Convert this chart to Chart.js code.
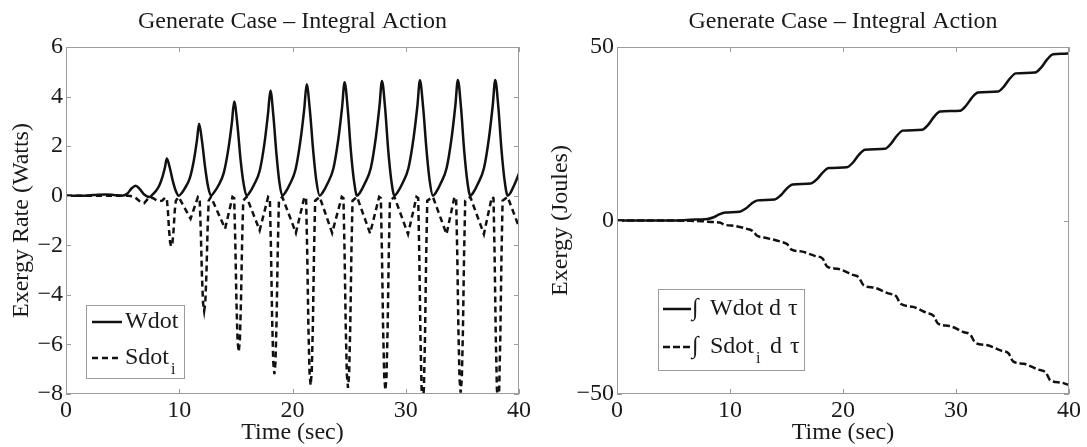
<!DOCTYPE html>
<html>
<head>
<meta charset="utf-8">
<title>Generate Case - Integral Action</title>
<script src="https://cdn.jsdelivr.net/npm/chart.js@4.4.1/dist/chart.umd.min.js"></script>
<style>
  body { margin: 0; background: #fff; }
  #wrap { position: relative; width: 1087px; height: 447px; overflow: hidden; }
  canvas { position: absolute; top: 0; }
</style>
</head>
<body>
<div id="wrap">
  <canvas id="rate-canvas" width="540" height="447" style="left:0"></canvas>
  <canvas id="energy-canvas" width="547" height="447" style="left:540px"></canvas>
</div>
<script>
// Exergy rate (left) and accumulated exergy (right) for the generate case
let panelTitle = "Generate Case \u2013 Integral Action";
let timeTicks = [0, 10, 20, 30, 40];
let rateTicks = [-8, -6, -4, -2, 0, 2, 4, 6];
let energyTicks = [-50, 0, 50];

// Wdot (Watts)
let wdotTime = [0, 1, 2, 2.8, 3.5, 4.2, 4.9, 5.4, 5.8, 6.15, 6.5, 6.9, 7.4,
  7.65, 7.95, 8.23, 8.53, 8.75, 8.9, 9.16, 9.43, 9.69, 9.95,
  10.2, 10.49, 10.94, 11.3, 11.57, 11.75, 12.01, 12.28, 12.54, 12.8,
  13.05, 13.42, 13.93, 14.34, 14.65, 14.85, 15.13, 15.4, 15.68, 15.95,
  16.2, 16.58, 17.11, 17.53, 17.84, 18.05, 18.31, 18.58, 18.84, 19.1,
  19.35, 19.75, 20.28, 20.71, 21.04, 21.25, 21.54, 21.83, 22.11, 22.4,
  22.65, 23.06, 23.61, 24.05, 24.38, 24.6, 24.88, 25.15, 25.43, 25.7,
  25.95, 26.36, 26.91, 27.35, 27.68, 27.9, 28.18, 28.45, 28.73, 29.0,
  29.25, 29.68, 30.24, 30.69, 31.03, 31.25, 31.54, 31.83, 32.11, 32.4,
  32.65, 33.06, 33.61, 34.05, 34.38, 34.6, 34.88, 35.15, 35.43, 35.7,
  35.95, 36.36, 36.91, 37.35, 37.68, 37.9, 38.18, 38.45, 38.73, 39.0,
  39.25, 39.6, 40];
let wdotRate = [0, 0, 0.01, 0.04, 0.05, 0.03, 0, 0.08, 0.3, 0.4, 0.28, 0.05, -0.05,
  0.05, 0.2, 0.4, 0.78, 1.17, 1.5, 1.14, 0.6, 0.2, 0,
  0.1, 0.3, 0.72, 1.45, 2.26, 2.9, 2.2, 1.16, 0.38, 0,
  0.12, 0.38, 0.92, 1.9, 2.96, 3.8, 2.89, 1.52, 0.49, 0,
  0.12, 0.42, 1.02, 2.13, 3.32, 4.25, 3.23, 1.7, 0.55, 0,
  0.12, 0.45, 1.08, 2.25, 3.51, 4.5, 3.42, 1.8, 0.59, 0,
  0.12, 0.46, 1.1, 2.29, 3.57, 4.58, 3.48, 1.83, 0.6, 0,
  0.12, 0.47, 1.11, 2.32, 3.61, 4.63, 3.52, 1.85, 0.6, 0,
  0.12, 0.47, 1.12, 2.33, 3.63, 4.66, 3.54, 1.86, 0.61, 0,
  0.12, 0.47, 1.12, 2.34, 3.64, 4.67, 3.55, 1.87, 0.61, 0,
  0.12, 0.47, 1.12, 2.34, 3.64, 4.67, 3.55, 1.87, 0.61, 0,
  0.12, 0.45, 0.9];

// Sdot_i (Watts)
let sdotTime = [0, 5.5, 6.0, 6.5, 6.9, 7.35, 7.7, 8.1, 8.5, 8.75,
  8.9, 9.0, 9.1, 9.2, 9.3, 9.4, 9.5, 9.6, 9.7, 9.95, 11.0, 11.65,
  11.8, 11.9, 12.0, 12.1, 12.2, 12.3, 12.4, 12.5, 12.6, 12.8, 14.05, 14.7,
  14.85, 14.95, 15.05, 15.15, 15.25, 15.35, 15.45, 15.55, 15.65, 15.95, 17.1, 17.85,
  18.0, 18.1, 18.2, 18.3, 18.4, 18.5, 18.6, 18.7, 18.8, 19.1, 20.3, 21.05,
  21.2, 21.3, 21.4, 21.5, 21.6, 21.7, 21.8, 21.9, 22.0, 22.4, 23.5, 24.35,
  24.5, 24.6, 24.7, 24.8, 24.9, 25.0, 25.1, 25.2, 25.3, 25.7, 26.85, 27.65,
  27.8, 27.9, 28.0, 28.1, 28.2, 28.3, 28.4, 28.5, 28.6, 29.0, 30.2, 30.95,
  31.1, 31.2, 31.3, 31.4, 31.5, 31.6, 31.7, 31.8, 31.9, 32.4, 33.6, 34.3,
  34.45, 34.55, 34.65, 34.75, 34.85, 34.95, 35.05, 35.15, 35.25, 35.7, 36.9, 37.6,
  37.75, 37.85, 37.95, 38.05, 38.15, 38.25, 38.35, 38.45, 38.55, 39.0, 40];
let sdotRate = [0, 0, -0.03, -0.22, -0.3, -0.06, -0.1, -0.22, -0.2, -0.08,
  -0.1, -0.62, -1.39, -1.91, -2.05, -1.91, -1.39, -0.62, -0.2, -0.05, -0.93, -0.05,
  -0.1, -1.4, -3.16, -4.32, -4.65, -4.32, -3.16, -1.4, -0.2, -0.05, -1.33, -0.05,
  -0.1, -1.89, -4.28, -5.86, -6.3, -5.86, -4.28, -1.89, -0.2, -0.05, -1.4, -0.05,
  -0.1, -2.16, -4.9, -6.7, -7.2, -6.7, -4.9, -2.16, -0.2, -0.05, -1.5, -0.05,
  -0.1, -2.3, -5.2, -7.11, -7.65, -7.11, -5.2, -2.3, -0.2, -0.05, -1.5, -0.05,
  -0.1, -2.33, -5.27, -7.21, -7.75, -7.21, -5.27, -2.33, -0.2, -0.05, -1.52, -0.05,
  -0.1, -2.36, -5.34, -7.3, -7.85, -7.3, -5.34, -2.36, -0.2, -0.05, -1.55, -0.05,
  -0.1, -2.52, -5.71, -7.81, -8.4, -7.81, -5.71, -2.52, -0.2, -0.05, -1.55, -0.05,
  -0.1, -2.39, -5.41, -7.39, -7.95, -7.39, -5.41, -2.39, -0.2, -0.05, -1.55, -0.05,
  -0.1, -2.52, -5.71, -7.81, -8.4, -7.81, -5.71, -2.52, -0.2, -0.05, -1.27];

// integral of Wdot (Joules)
let workTime = [0, 5.0, 5.8, 6.5, 7.3,
  8.0, 8.55, 9.05, 9.6, 10.85, 11.4, 11.9, 12.45, 13.95, 14.5, 15.0, 15.55,
  17.15, 17.7, 18.2, 18.75, 20.35, 20.9, 21.4, 21.95, 23.7, 24.25, 24.75, 25.3,
  27.0, 27.55, 28.05, 28.6, 30.35, 30.9, 31.4, 31.95, 33.7, 34.25, 34.75, 35.3,
  37.0, 37.55, 38.05, 38.6, 39.5, 40];
let workEnergy = [0, 0.02, 0.08, 0.25, 0.3,
  0.42, 0.93, 1.77, 2.3, 2.55, 3.45, 4.85, 5.8, 6.05, 7.28, 9.12, 10.4,
  10.65, 11.91, 13.79, 15.1, 15.35, 16.79, 18.91, 20.4, 20.65, 22.15, 24.35, 25.9,
  26.15, 27.65, 29.85, 31.4, 31.65, 33.15, 35.35, 36.9, 37.15, 38.65, 40.85, 42.4,
  42.65, 44.15, 46.35, 47.9, 48.05, 48.2];

// integral of Sdot_i (Joules)
let lossTime = [0, 5, 6.5, 7.5, 8.5, 9.1, 9.5, 10.5, 11.5, 12.0, 12.4, 13.0,
  14.5, 15.05, 15.45, 16.3, 17.5, 18.2, 18.6, 19.5, 20.8, 21.4, 21.8, 22.8,
  24.0, 24.7, 25.1, 26.2, 27.4, 28.0, 28.4, 29.4, 30.7, 31.3, 31.7, 32.7,
  34.0, 34.65, 35.05, 36.0, 37.3, 37.95, 38.35, 39.3, 40];
let lossEnergy = [0, 0, -0.1, -0.2, -0.45, -0.6, -1.2, -1.6, -2.4, -3.0, -4.4, -4.9,
  -6.1, -6.8, -8.4, -8.9, -10.2, -11.0, -13.3, -13.9, -15.6, -16.4, -18.6, -19.4,
  -21.0, -21.8, -24.0, -24.9, -26.6, -27.4, -29.7, -30.4, -32.2, -33.0, -35.2, -35.9,
  -37.5, -38.3, -40.6, -41.3, -43.0, -43.8, -46.1, -46.7, -47.4];

let serif = "'Liberation Serif', 'Times New Roman', serif";
let inkColor = "#1a1a1a";
let frameColor = "#9c9c9c";
let fontSize = 24;

Chart.defaults.font.family = serif;
Chart.defaults.font.size = fontSize;
Chart.defaults.color = inkColor;

function toPoints(xs, ys) {
  return xs.map(function (x, i) {
    return { x: x, y: ys[i] };
  });
}

function minusLabel(value) {
  return value < 0 ? "\u2212" + Math.abs(value) : String(value);
}

// box around the plot with inward tick marks on all four sides
let framePlugin = {
  id: "frame",
  afterDraw: function (chart) {
    let ctx = chart.ctx;
    let area = chart.chartArea;
    let xScale = chart.scales.x;
    let yScale = chart.scales.y;
    ctx.save();
    ctx.strokeStyle = frameColor;
    ctx.lineWidth = 1;
    ctx.strokeRect(area.left + 0.5, area.top + 0.5, area.right - area.left - 1, area.bottom - area.top - 1);
    ctx.beginPath();
    xScale.ticks.forEach(function (tick) {
      let px = Math.round(xScale.getPixelForValue(tick.value)) + 0.5;
      ctx.moveTo(px, area.bottom);
      ctx.lineTo(px, area.bottom - 5);
      ctx.moveTo(px, area.top);
      ctx.lineTo(px, area.top + 5);
    });
    yScale.ticks.forEach(function (tick) {
      let py = Math.round(yScale.getPixelForValue(tick.value)) + 0.5;
      ctx.moveTo(area.left, py);
      ctx.lineTo(area.left + 5, py);
      ctx.moveTo(area.right, py);
      ctx.lineTo(area.right - 5, py);
    });
    ctx.stroke();
    ctx.restore();
  }
};

let titlePlugin = {
  id: "panelTitle",
  afterDraw: function (chart) {
    let ctx = chart.ctx;
    let area = chart.chartArea;
    ctx.save();
    ctx.font = fontSize + "px " + serif;
    ctx.fillStyle = inkColor;
    ctx.textAlign = "center";
    ctx.textBaseline = "middle";
    ctx.fillText(panelTitle, (area.left + area.right) / 2, 22);
    ctx.restore();
  }
};

// legend box; each row is a line sample plus text parts at set x positions
function boxLegend(box, rows) {
  return {
    id: "boxLegend",
    afterDraw: function (chart) {
      let ctx = chart.ctx;
      ctx.save();
      ctx.fillStyle = "#fff";
      ctx.fillRect(box.x, box.y, box.w, box.h);
      ctx.strokeStyle = frameColor;
      ctx.lineWidth = 1;
      ctx.strokeRect(box.x + 0.5, box.y + 0.5, box.w, box.h);
      rows.forEach(function (row) {
        ctx.strokeStyle = "#111";
        ctx.lineWidth = 2.5;
        ctx.setLineDash(row.dash);
        ctx.beginPath();
        ctx.moveTo(row.x0, row.y);
        ctx.lineTo(row.x1, row.y);
        ctx.stroke();
        ctx.setLineDash([]);
        ctx.fillStyle = inkColor;
        ctx.textAlign = "left";
        ctx.textBaseline = "middle";
        row.parts.forEach(function (part) {
          ctx.font = (part.sub ? "16px " : fontSize + "px ") + serif;
          ctx.fillText(part.text, part.x, part.sub ? row.y + 12 : row.y);
        });
      });
      ctx.restore();
    }
  };
}

function panelOptions(yTicks, yMin, yMax, yTitle, yWidth, yTitlePad, rightPad) {
  return {
    responsive: false,
    animation: false,
    layout: { padding: { top: 47, right: rightPad, bottom: 0, left: 0 } },
    plugins: { legend: { display: false }, tooltip: { enabled: false } },
    scales: {
      x: {
        type: "linear",
        min: 0,
        max: 40,
        grid: { display: false, drawTicks: false },
        border: { display: false },
        afterBuildTicks: function (axis) {
          axis.ticks = timeTicks.map(function (v) { return { value: v }; });
        },
        afterFit: function (axis) { axis.height = 53; },
        ticks: { padding: 2, maxRotation: 0, autoSkip: false, color: inkColor },
        title: { display: true, text: "Time (sec)", color: inkColor, padding: { top: 0, bottom: 0 } }
      },
      y: {
        type: "linear",
        min: yMin,
        max: yMax,
        grid: { display: false, drawTicks: false },
        border: { display: false },
        afterBuildTicks: function (axis) {
          axis.ticks = yTicks.map(function (v) { return { value: v }; });
        },
        afterFit: function (axis) { axis.width = yWidth; },
        ticks: { padding: 3, autoSkip: false, color: inkColor, callback: minusLabel },
        title: { display: true, text: yTitle, color: inkColor, padding: { top: yTitlePad, bottom: 0 } }
      }
    }
  };
}

function lineSet(label, points, dash, smooth) {
  return {
    label: label,
    data: points,
    borderColor: "#111",
    borderWidth: 2.5,
    borderDash: dash,
    pointRadius: 0,
    fill: false,
    tension: 0,
    cubicInterpolationMode: smooth ? "monotone" : "default"
  };
}

let rateChart = new Chart(document.getElementById("rate-canvas").getContext("2d"), {
  type: "line",
  data: {
    datasets: [
      lineSet("Wdot", toPoints(wdotTime, wdotRate), [], true),
      lineSet("Sdot_i", toPoints(sdotTime, sdotRate), [6, 4], false)
    ]
  },
  options: panelOptions(rateTicks, -8, 6, "Exergy Rate (Watts)", 66, 7, 21),
  plugins: [
    framePlugin,
    titlePlugin,
    boxLegend({ x: 86, y: 305, w: 98, h: 73 }, [
      { y: 322, x0: 92, x1: 122, dash: [], parts: [{ text: "Wdot", x: 125 }] },
      { y: 358, x0: 92, x1: 122, dash: [6, 4],
        parts: [{ text: "Sdot", x: 125 }, { text: "i", x: 171, sub: true }] }
    ])
  ]
});

let energyChart = new Chart(document.getElementById("energy-canvas").getContext("2d"), {
  type: "line",
  data: {
    datasets: [
      lineSet("\u222B Wdot d \u03C4", toPoints(workTime, workEnergy), [], true),
      lineSet("\u222B Sdot_i d \u03C4", toPoints(lossTime, lossEnergy), [7, 3], true)
    ]
  },
  options: panelOptions(energyTicks, -50, 50, "Exergy (Joules)", 77, 6, 18),
  plugins: [
    framePlugin,
    titlePlugin,
    boxLegend({ x: 118, y: 289, w: 146, h: 81 }, [
      { y: 309, x0: 123, x1: 151, dash: [],
        parts: [{ text: "\u222B", x: 152 }, { text: "Wdot", x: 170 }, { text: "d", x: 229 }, { text: "\u03C4", x: 248 }] },
      { y: 347, x0: 123, x1: 151, dash: [7, 3],
        parts: [{ text: "\u222B", x: 152 }, { text: "Sdot", x: 170 }, { text: "i", x: 216, sub: true },
          { text: "d", x: 230 }, { text: "\u03C4", x: 250 }] }
    ])
  ]
});
</script>
</body>
</html>
